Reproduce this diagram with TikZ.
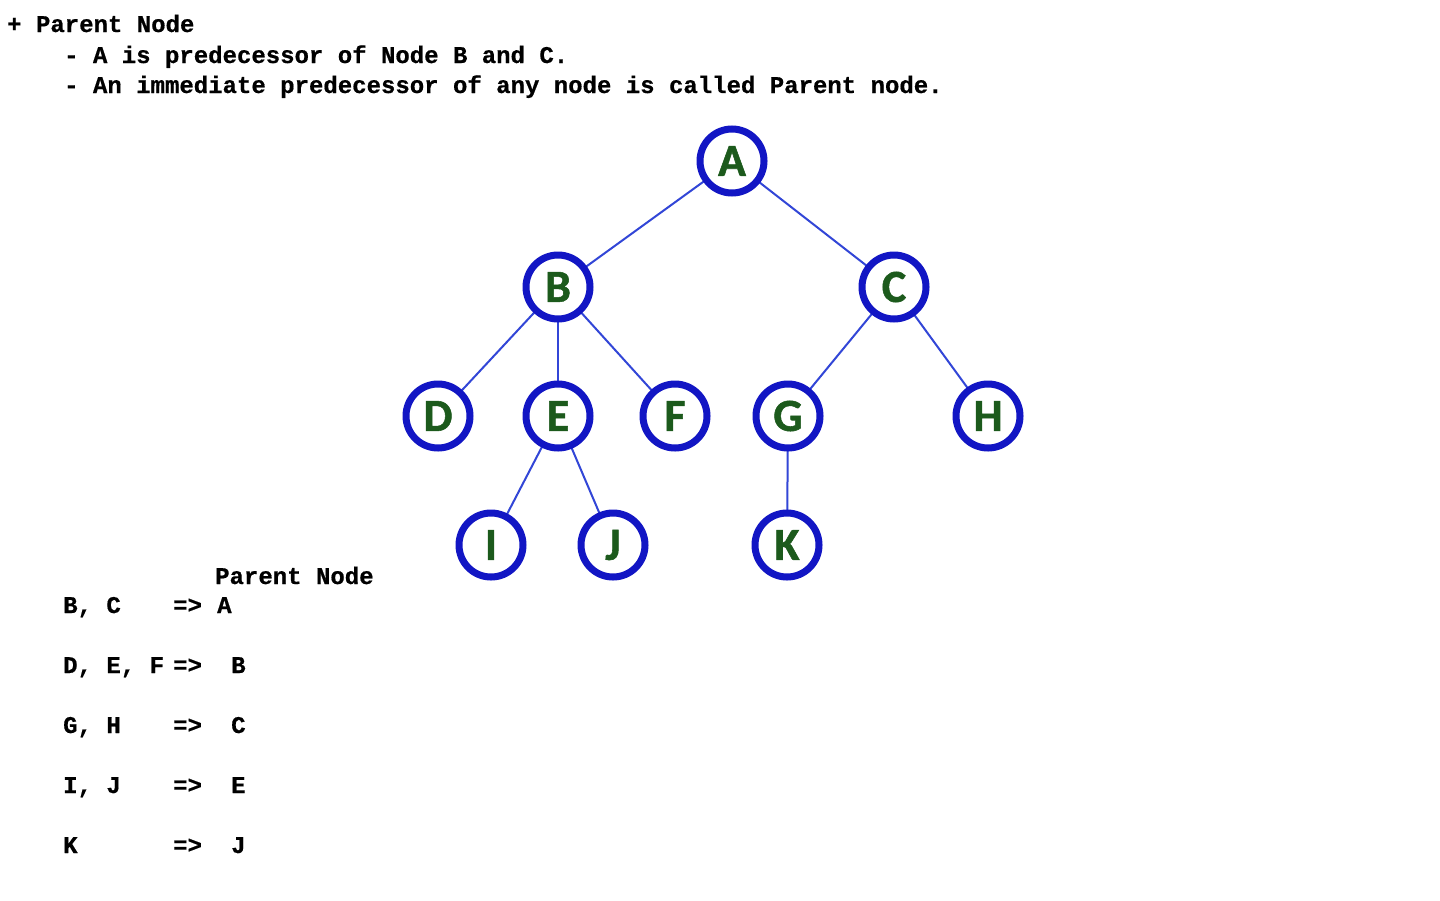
\documentclass[tikz,border=0pt]{standalone}
\usepackage{fontspec}
\usetikzlibrary{backgrounds}
\setmonofont[FakeBold=0.6]{Liberation Mono}
\newfontfamily\lettfont[FakeBold=1.2]{Carlito}
\begin{document}
\begin{tikzpicture}[x=1pt,y=-1pt,
  txt/.style={anchor=base west,inner sep=0pt,font=\ttfamily\bfseries\fontsize{24}{24}\selectfont},
  tnode/.style={circle,draw=ringblue,line width=7pt,minimum size=64pt,inner sep=0pt,fill=white,
     text=leafgreen,font=\lettfont\bfseries\fontsize{46}{46}\selectfont},
  edge/.style={draw=edgeblue,line width=2pt}]
\definecolor{ringblue}{RGB}{18,22,196}
\definecolor{edgeblue}{RGB}{50,70,215}
\definecolor{leafgreen}{RGB}{28,90,28}
\useasboundingbox (0,0) rectangle (1440,900);
% header text
\node[txt] (h1) at (7,32) {+ Parent Node};
\node[txt] (h2) at (64,63) {- A is predecessor of Node B and C.};
\node[txt] (h3) at (64,93) {- An immediate predecessor of any node is called Parent node.};
% tree
\node[tnode] (A) at (732,161) {A};
\node[tnode] (B) at (558,287) {B};
\node[tnode] (C) at (894,287) {C};
\node[tnode] (D) at (438,416) {D};
\node[tnode] (E) at (558,416) {E};
\node[tnode] (F) at (675,416) {F};
\node[tnode] (G) at (788,416) {G};
\node[tnode] (H) at (988,416) {H};
\node[tnode] (I) at (491,545) {I};
\node[tnode] (J) at (613,545) {J};
\node[tnode] (K) at (787,545) {K};
\begin{pgfonlayer}{background}
\fill[white] (0,0) rectangle (1440,900);
\draw[edge] (A.center) -- (B.center);
\draw[edge] (A.center) -- (C.center);
\draw[edge] (B.center) -- (D.center);
\draw[edge] (B.center) -- (E.center);
\draw[edge] (B.center) -- (F.center);
\draw[edge] (C.center) -- (G.center);
\draw[edge] (C.center) -- (H.center);
\draw[edge] (E.center) -- (I.center);
\draw[edge] (E.center) -- (J.center);
\draw[edge] (G.center) -- (K.center);
\end{pgfonlayer}
% table
\node[txt] (ph) at (215,584) {Parent Node};
\node[txt] (l1) at (63,613) {B, C};
\node[txt] (a1) at (173,613) {=>};
\node[txt] (r1) at (217,613) {A};
\node[txt] (l2) at (63,673) {D, E, F};
\node[txt] (a2) at (173,673) {=>};
\node[txt] (r2) at (231,673) {B};
\node[txt] (l3) at (63,733) {G, H};
\node[txt] (a3) at (173,733) {=>};
\node[txt] (r3) at (231,733) {C};
\node[txt] (l4) at (63,793) {I, J};
\node[txt] (a4) at (173,793) {=>};
\node[txt] (r4) at (231,793) {E};
\node[txt] (l5) at (63,853) {K};
\node[txt] (a5) at (173,853) {=>};
\node[txt] (r5) at (231,853) {J};
\end{tikzpicture}
\end{document}
